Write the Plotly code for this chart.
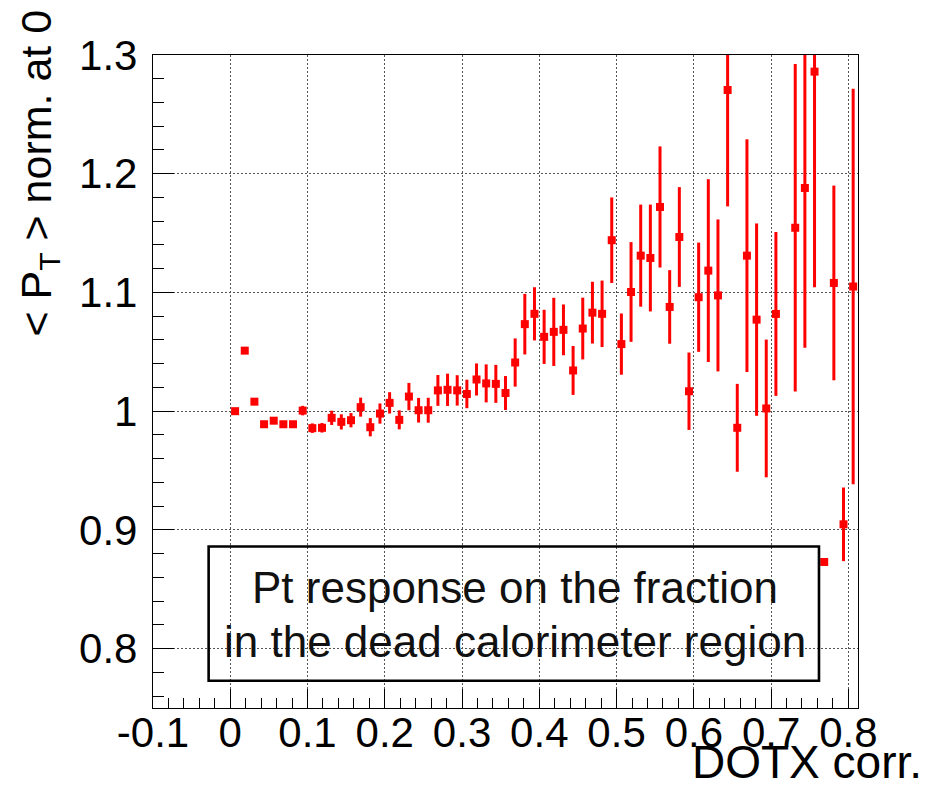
import plotly.graph_objects as go

# ---- data ----
dotx_centers = [0.00625, 0.01875, 0.03125, 0.04375, 0.05625, 0.06875, 0.08125, 0.09375,
                0.10625, 0.11875, 0.13125, 0.14375, 0.15625, 0.16875, 0.18125, 0.19375,
                0.20625, 0.21875, 0.23125, 0.24375, 0.25625, 0.26875, 0.28125, 0.29375,
                0.30625, 0.31875, 0.33125, 0.34375, 0.35625, 0.36875, 0.38125, 0.39375,
                0.40625, 0.41875, 0.43125, 0.44375, 0.45625, 0.46875, 0.48125, 0.49375,
                0.50625, 0.51875, 0.53125, 0.54375, 0.55625, 0.56875, 0.58125, 0.59375,
                0.60625, 0.61875, 0.63125, 0.64375, 0.65625, 0.66875, 0.68125, 0.69375,
                0.70625, 0.71875, 0.73125, 0.74375, 0.75625, 0.76875, 0.78125, 0.79375,
                0.80625]

pt_norm = [1.000, 1.051, 1.008, 0.989, 0.992, 0.989, 0.989, 1.0005, 0.9857, 0.986,
           0.9944, 0.991, 0.9924, 1.0034, 0.9865, 0.998, 1.007, 0.9927, 1.0123, 1.0008,
           1.0008, 1.0175, 1.018, 1.0175, 1.0145, 1.0267, 1.0234, 1.023, 1.0153, 1.041,
           1.0733, 1.082, 1.0626, 1.0668, 1.0685, 1.0343, 1.0696, 1.083, 1.082, 1.144,
           1.0565, 1.1004, 1.131, 1.129, 1.172, 1.0878, 1.1467, 1.0168, 1.096, 1.1184,
           1.0975, 1.2705, 0.986, 1.131, 1.0771, 1.0023, 1.0819, None, 1.1545, 1.188,
           1.286, 0.873, 1.108, 0.9047, 1.105]

pt_err = [0.001, 0.001, 0.001, 0.0015, 0.0015, 0.0015, 0.0015, 0.004, 0.004, 0.004,
          0.006, 0.0064, 0.006, 0.008, 0.0077, 0.0085, 0.009, 0.008, 0.0115, 0.0104,
          0.0105, 0.013, 0.0136, 0.0128, 0.012, 0.0135, 0.016, 0.016, 0.0143, 0.0203,
          0.0255, 0.0224, 0.0228, 0.0287, 0.0214, 0.0206, 0.026, 0.026, 0.028, 0.036,
          0.0258, 0.042, 0.043, 0.045, 0.051, 0.031, 0.042, 0.0326, 0.046, 0.077,
          0.064, 0.098, 0.037, 0.098, 0.081, 0.058, 0.069, None, 0.138, 0.1346,
          0.1816, 0.0, 0.082, 0.031, 0.1665]

x_tickvals = [-0.1, 0.0, 0.1, 0.2, 0.3, 0.4, 0.5, 0.6, 0.7, 0.8]
x_ticktext = ["-0.1", "0", "0.1", "0.2", "0.3", "0.4", "0.5", "0.6", "0.7", "0.8"]
y_tickvals = [0.8, 0.9, 1.0, 1.1, 1.2, 1.3]
y_ticktext = ["0.8", "0.9", "1", "1.1", "1.2", "1.3"]

x_title = "DOTX corr."
y_title = "&lt; P<sub>T</sub> &gt; norm. at 0"
box_lines = ["Pt response on the fraction", "in the dead calorimeter region"]

FONT = "Liberation Sans, Arial, Helvetica, sans-serif"

fig = go.Figure()
fig.add_trace(go.Scatter(
    x=dotx_centers, y=pt_norm,
    mode="markers",
    marker=dict(symbol="square", size=8, color="#ff0000", line=dict(width=0)),
    error_y=dict(type="data", array=pt_err, visible=True, color="#ff0000",
                 thickness=3, width=0),
    showlegend=False,
))

axis_common = dict(
    showline=True, linecolor="black", linewidth=1.3, mirror=True,
    ticks="inside", tickcolor="black", tickwidth=1,
    showgrid=True, gridcolor="#555555", gridwidth=1, griddash="1.5px,2.5px",
    zeroline=False,
    tickfont=dict(family=FONT, size=42, color="black"),
)

fig.update_xaxes(
    range=[-0.1, 0.8125],
    tickmode="array", tickvals=x_tickvals, ticktext=x_ticktext,
    ticklen=19, ticklabelstandoff=-13,
    minor=dict(ticks="inside", ticklen=9.5, dtick=0.02, tick0=0.0,
               tickcolor="black", tickwidth=1, showgrid=False),
    **axis_common,
)
fig.update_yaxes(
    range=[0.75, 1.3],
    tickmode="array", tickvals=y_tickvals, ticktext=y_ticktext,
    ticklen=21, ticklabelstandoff=6,
    minor=dict(ticks="inside", ticklen=10.5, dtick=0.02, tick0=0.0,
               tickcolor="black", tickwidth=1, showgrid=False),
    **axis_common,
)

# text box (in data coordinates)
fig.add_shape(type="rect", xref="x", yref="y",
              x0=-0.028, x1=0.762, y0=0.773, y1=0.886,
              line=dict(color="black", width=2.6), fillcolor="rgba(0,0,0,0)",
              layer="above")
fig.add_annotation(x=0.368, y=0.8515, xref="x", yref="y", text=box_lines[0],
                   showarrow=False, xanchor="center", yanchor="middle",
                   font=dict(family=FONT, size=44, color="#111111"))
fig.add_annotation(x=0.368, y=0.806, xref="x", yref="y", text=box_lines[1],
                   showarrow=False, xanchor="center", yanchor="middle",
                   font=dict(family=FONT, size=44, color="#111111"))

# axis titles
fig.add_annotation(x=1.092, y=-0.041, xref="paper", yref="paper", text=x_title,
                   showarrow=False, xanchor="right", yanchor="top", borderpad=0,
                   font=dict(family=FONT, size=46, color="black"))
fig.add_annotation(x=-0.163, y=0.5666, xref="paper", yref="paper", text=y_title,
                   showarrow=False, xanchor="center", yanchor="bottom", borderpad=0,
                   textangle=-90,
                   font=dict(family=FONT, size=43, color="black"))

fig.update_layout(
    width=927, height=789, autosize=False,
    margin=dict(l=153, r=69, t=55, b=81),
    paper_bgcolor="white", plot_bgcolor="white",
    font=dict(family=FONT, color="black"),
)

fig.write_html("out.html")
